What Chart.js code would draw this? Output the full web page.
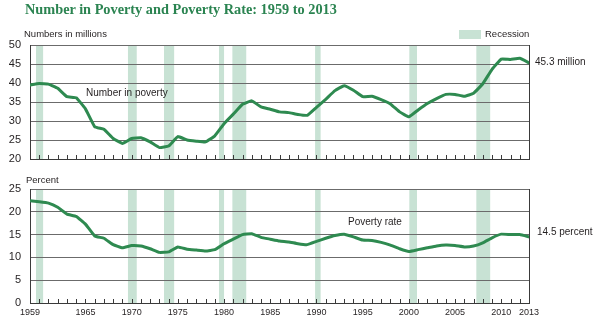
<!DOCTYPE html>
<html>
<head>
<meta charset="utf-8">
<script src="https://cdn.jsdelivr.net/npm/chart.js@4/dist/chart.umd.min.js"></script>
<style>
  html, body { margin: 0; padding: 0; background: #fff; }
  #wrap { position: relative; width: 600px; height: 324px; overflow: hidden; background: #fff; }
  .t { position: absolute; z-index: 5; white-space: nowrap; color: #231f20; font-family: "Liberation Sans", Arial, sans-serif; line-height: 12px; }
  #title { left: 25px; top: 1px; font-family: "Liberation Serif", serif; font-weight: bold; font-size: 14.3px; line-height: 17px; color: #2b8451; }
  canvas { position: absolute; left: 0; z-index: 1; }
  #swatch { position: absolute; left: 459px; top: 30px; width: 22px; height: 9px; background: #c8e2d4; }
</style>
</head>
<body>
<div id="wrap">
  <div id="title" class="t">Number in Poverty and Poverty Rate: 1959 to 2013</div>
  <div class="t" style="left:24px; top:28px; font-size:9.5px;">Numbers in millions</div>
  <div id="swatch"></div>
  <div class="t" style="left:485px; top:28px; font-size:9.5px;">Recession</div>
  <div class="t" style="left:86px; top:87px; font-size:10px;">Number in poverty</div>
  <div class="t" style="left:535px; top:56px; font-size:10px;">45.3 million</div>
  <div class="t" style="left:26px; top:174px; font-size:9.5px;">Percent</div>
  <div class="t" style="left:348px; top:216px; font-size:10px;">Poverty rate</div>
  <div class="t" style="left:537px; top:226px; font-size:10px;">14.5 percent</div>
  <canvas id="c1" width="600" height="165" style="top:0px;"></canvas>
  <canvas id="c2" width="600" height="159" style="top:165px;"></canvas>
</div>
<script>
// ---- Data ----
const years = [1959,1960,1961,1962,1963,1964,1965,1966,1967,1968,1969,1970,1971,1972,1973,1974,1975,1976,1977,1978,1979,1980,1981,1982,1983,1984,1985,1986,1987,1988,1989,1990,1991,1992,1993,1994,1995,1996,1997,1998,1999,2000,2001,2002,2003,2004,2005,2006,2007,2008,2009,2010,2011,2012,2013];
const numberInPoverty = [39.5,39.9,39.7,38.6,36.4,36.1,33.2,28.5,27.8,25.4,24.1,25.4,25.6,24.5,23.0,23.4,25.9,25.0,24.7,24.5,26.1,29.3,31.8,34.4,35.3,33.7,33.1,32.4,32.2,31.7,31.5,33.6,35.7,38.0,39.3,38.1,36.4,36.5,35.6,34.5,32.4,31.1,32.9,34.6,35.9,37.0,37.0,36.5,37.3,39.8,43.6,46.3,46.2,46.5,45.3];
const povertyRate = [22.4,22.2,21.9,21.0,19.5,19.0,17.3,14.7,14.2,12.8,12.1,12.6,12.5,11.9,11.1,11.2,12.3,11.8,11.6,11.4,11.7,13.0,14.0,15.0,15.2,14.4,14.0,13.6,13.4,13.0,12.8,13.5,14.2,14.8,15.1,14.5,13.8,13.7,13.3,12.7,11.9,11.3,11.7,12.1,12.5,12.7,12.6,12.3,12.5,13.2,14.3,15.1,15.0,15.0,14.5];
const recessionStart = [1959.65,1969.6,1973.5,1979.45,1980.9,1989.85,2000.05,2007.3];
const recessionEnd   = [1960.42,1970.55,1974.6,1980.0,1982.4,1990.45,2000.88,2008.8];
const xTickLabels = [1959,1965,1970,1975,1980,1985,1990,1995,2000,2005,2010,2013];
const topTicks = [20,25,30,35,40,45,50];
const bottomTicks = [0,5,10,15,20,25];

// ---- Style ----
const LINE = '#2e8a50';
const REC = '#c8e2d4';
const GRID = '#6b6b6b';
const AXIS = '#3a3a3a';
const TXT = '#231f20';

const decor = {
  id: 'decor',
  beforeDraw(chart) {
    const {ctx, chartArea: a, scales: {x}} = chart;
    ctx.save();
    ctx.fillStyle = REC;
    for (let i = 0; i < recessionStart.length; i++) {
      const x1 = x.getPixelForValue(recessionStart[i]);
      const x2 = x.getPixelForValue(recessionEnd[i]);
      ctx.fillRect(x1, a.top, x2 - x1, a.bottom - a.top);
    }
    ctx.restore();
  },
  afterDraw(chart) {
    const {ctx, chartArea: a, scales: {x}} = chart;
    ctx.save();
    ctx.strokeStyle = AXIS;
    ctx.lineWidth = 1;
    ctx.beginPath();
    const r = Math.round(a.right) + 0.5;
    ctx.moveTo(r, a.top);
    ctx.lineTo(r, a.bottom);
    for (const yr of years) {
      const px = Math.round(x.getPixelForValue(yr)) + 0.5;
      ctx.moveTo(px, a.bottom);
      ctx.lineTo(px, a.bottom - 4);
    }
    ctx.stroke();
    ctx.restore();
  }
};

function makeChart(id, values, yMin, yMax, yTicks, top, bottomH, showX) {
  return new Chart(document.getElementById(id), {
    type: 'line',
    data: {
      datasets: [{
        data: years.map((y, i) => ({x: y, y: values[i]})),
        borderColor: LINE,
        borderWidth: 3,
        pointRadius: 0,
        tension: 0.1,
        borderJoinStyle: 'round',
        borderCapStyle: 'round',
        fill: false
      }]
    },
    options: {
      responsive: false,
      animation: false,
      devicePixelRatio: 1,
      layout: { padding: { top: top, right: 71, left: 0, bottom: 0 } },
      plugins: { legend: { display: false }, tooltip: { enabled: false } },
      scales: {
        x: {
          type: 'linear', min: 1959, max: 2013,
          grid: { display: false, drawTicks: false },
          border: { display: true, color: AXIS, width: 1 },
          afterBuildTicks: s => { s.ticks = xTickLabels.map(v => ({value: v})); },
          ticks: {
            display: showX, autoSkip: false, maxRotation: 0, padding: 4,
            color: TXT,
            font: { family: "'Liberation Sans Narrow', 'Liberation Sans', Arial, sans-serif", size: 9 },
            callback: v => String(v)
          },
          afterFit: s => { s.height = bottomH; s.paddingLeft = 0; s.paddingRight = 0; }
        },
        y: {
          min: yMin, max: yMax,
          afterBuildTicks: s => { s.ticks = yTicks.map(v => ({value: v})); },
          grid: { color: GRID, lineWidth: 1, drawTicks: false },
          border: { display: true, color: AXIS, width: 1 },
          ticks: {
            padding: 9, color: TXT,
            font: { family: "'Liberation Sans', Arial, sans-serif", size: 11 }
          },
          afterFit: s => { s.width = 30; s.paddingTop = 0; s.paddingBottom = 0; }
        }
      }
    },
    plugins: [decor]
  });
}

makeChart('c1', numberInPoverty, 20, 50, topTicks, 45, 6, false);
makeChart('c2', povertyRate, 0, 25, bottomTicks, 24, 21, true);
</script>
</body>
</html>
